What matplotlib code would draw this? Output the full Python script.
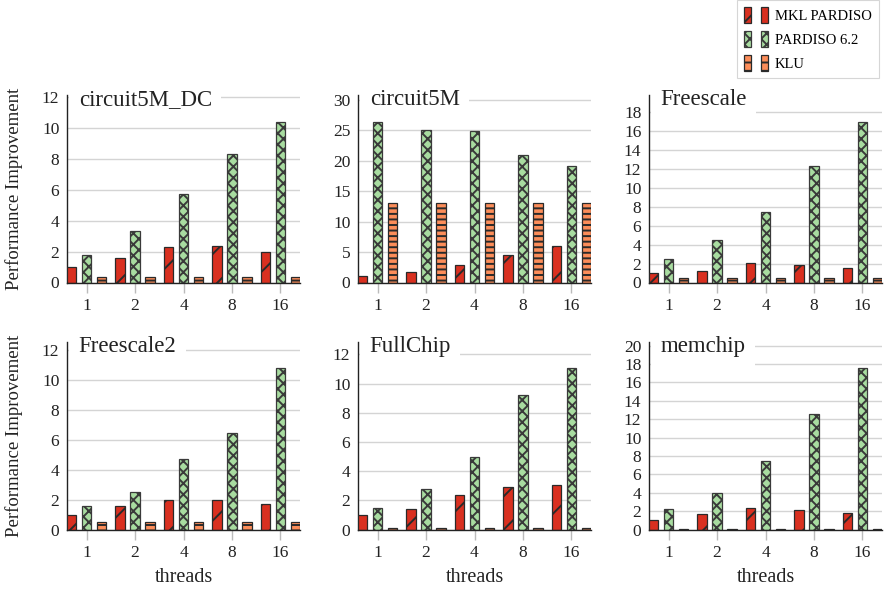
import numpy as np
import matplotlib
matplotlib.use('Agg')
import matplotlib.pyplot as plt
from matplotlib.patches import Rectangle
from matplotlib.legend_handler import HandlerTuple

plt.rcParams['font.family'] = ['Liberation Serif', 'DejaVu Serif']
plt.rcParams['hatch.linewidth'] = 1.4

threads = ['1', '2', '4', '8', '16']
series = ['MKL PARDISO', 'PARDISO 6.2', 'KLU']
matrices = ['circuit5M_DC', 'circuit5M', 'Freescale', 'Freescale2', 'FullChip', 'memchip']

circuit5M_DC_mkl = [1.0, 1.6, 2.3, 2.35, 2.0]
circuit5M_DC_pardiso = [1.8, 3.35, 5.7, 8.3, 10.35]
circuit5M_DC_klu = [0.33, 0.33, 0.33, 0.33, 0.33]

circuit5M_mkl = [1.0, 1.7, 2.9, 4.5, 6.0]
circuit5M_pardiso = [26.4, 25.0, 24.9, 21.0, 19.1]
circuit5M_klu = [13.1, 13.1, 13.1, 13.1, 13.1]

Freescale_mkl = [1.0, 1.24, 2.05, 1.87, 1.52]
Freescale_pardiso = [2.48, 4.52, 7.49, 12.3, 16.9]
Freescale_klu = [0.45, 0.45, 0.45, 0.45, 0.45]

Freescale2_mkl = [1.0, 1.55, 2.0, 1.97, 1.72]
Freescale2_pardiso = [1.55, 2.5, 4.72, 6.45, 10.8]
Freescale2_klu = [0.5, 0.5, 0.5, 0.5, 0.5]

FullChip_mkl = [1.0, 1.43, 2.39, 2.94, 3.08]
FullChip_pardiso = [1.49, 2.78, 4.94, 9.22, 11.08]
FullChip_klu = [0.1, 0.1, 0.1, 0.1, 0.1]

memchip_mkl = [1.0, 1.71, 2.37, 2.15, 1.78]
memchip_pardiso = [2.26, 4.01, 7.43, 12.53, 17.56]
memchip_klu = [0.1, 0.1, 0.1, 0.1, 0.1]

data = [
    (circuit5M_DC_mkl, circuit5M_DC_pardiso, circuit5M_DC_klu),
    (circuit5M_mkl, circuit5M_pardiso, circuit5M_klu),
    (Freescale_mkl, Freescale_pardiso, Freescale_klu),
    (Freescale2_mkl, Freescale2_pardiso, Freescale2_klu),
    (FullChip_mkl, FullChip_pardiso, FullChip_klu),
    (memchip_mkl, memchip_pardiso, memchip_klu),
]
ymax = [12.1, 30.8, 19.8, 12.5, 12.85, 20.4]
ytop = [12, 30, 18, 12, 12, 20]
ystep = [2, 5, 2, 2, 2, 2]

colors = ['#d93020', '#a8dca0', '#fc8d59']
hatches = ['/', 'xxx', '---']
leg_hatches = ['/', 'xxx', '--']
edges = ['#2a2a2a', '#3a3a3a', '#2a2a2a']

W, H = 884, 589
fig = plt.figure(figsize=(W / 100, H / 100), dpi=100)

col_left = [67, 358, 649]
row_top = [95, 342]
aw, ah = 233, 187.5

x = np.arange(len(threads))
offs = [-0.31, 0.0, 0.31]
bw = 0.19

for k, name in enumerate(matrices):
    r, c = divmod(k, 3)
    L = col_left[c]
    T = row_top[r]
    ax = fig.add_axes([L / W, 1 - (T + ah) / H, aw / W, ah / H])
    for j in range(3):
        ax.bar(x + offs[j], data[k][j], bw, color=colors[j], hatch=hatches[j],
               edgecolor=edges[j], linewidth=0.9, zorder=3)
    ax.set_xlim(-0.405, 4.405)
    ax.set_ylim(0, ymax[k])
    ax.set_yticks(np.arange(0, ytop[k] + 0.01, ystep[k]))
    ax.set_xticks(x)
    ax.set_xticklabels(threads)
    ax.grid(axis='y', color='#d4d4d4', linewidth=1.0)
    ax.set_axisbelow(True)
    for s in ['top', 'right']:
        ax.spines[s].set_visible(False)
    ax.spines['left'].set_color('#222222')
    ax.spines['left'].set_linewidth(1.0)
    ax.spines['bottom'].set_color('#222222')
    ax.spines['bottom'].set_linewidth(1.0)
    ax.spines['bottom'].set_zorder(4)
    ax.tick_params(axis='y', length=0, pad=5.5, labelsize=12.5, colors='#222222')
    ax.tick_params(axis='x', length=7, width=1, color='#bbbbbb', pad=4,
                   labelsize=12.5, labelcolor='#222222')
    ax.text(0.05, 1 - 10 / ah, name, transform=ax.transAxes, ha='left', va='baseline',
            fontsize=16.5, color='#222222', zorder=5,
            bbox=dict(boxstyle='square,pad=0.4', facecolor='white', edgecolor='none'))
    if c == 0:
        ax.set_ylabel('Performance Improvement', fontsize=13.5, color='#222222')
        ax.yaxis.set_label_coords(-(67 - 14) / aw, 0.5)
        ax.yaxis.label.set_va('center')
    if r == 1:
        ax.set_xlabel('threads', fontsize=14.5, color='#222222')
        ax.xaxis.set_label_coords(0.5, -(582 - 529) / ah)
        ax.xaxis.label.set_va('baseline')

handles = []
for j in range(3):
    p1 = Rectangle((0, 0), 1, 1, facecolor=colors[j], hatch=leg_hatches[j],
                   edgecolor=edges[j], linewidth=0.9)
    p2 = Rectangle((0, 0), 1, 1, facecolor=colors[j], hatch=leg_hatches[j],
                   edgecolor=edges[j], linewidth=0.9)
    handles.append((p1, p2))

leg = fig.legend(handles=handles, labels=series,
                 handler_map={tuple: HandlerTuple(ndivide=None, pad=0.7)},
                 loc='upper right', bbox_to_anchor=(879 / W, 1.0), borderaxespad=0,
                 frameon=True, fancybox=False, edgecolor='#cccccc', fontsize=10.5,
                 handlelength=1.6, handleheight=1.3, labelspacing=0.55,
                 handletextpad=0.5, borderpad=0.5)
leg.get_frame().set_linewidth(0.8)

fig.savefig('out.png', dpi=100)
